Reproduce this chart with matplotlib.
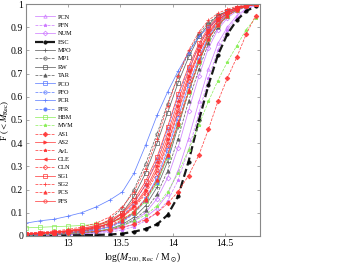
import matplotlib
matplotlib.use("Agg")
import matplotlib.pyplot as plt

plt.rcParams['font.family'] = ['Liberation Serif', 'DejaVu Serif']
plt.rcParams['mathtext.fontset'] = 'stix'

X = [12.6, 12.73, 12.87, 13.0, 13.13, 13.27, 13.4, 13.52, 13.63, 13.74, 13.85,
     13.95, 14.05, 14.15, 14.25, 14.34, 14.43, 14.52, 14.61, 14.7, 14.79]

names = ["PCN", "PFN", "NUM", "ESC", "MPO", "MP1", "RW", "TAR", "PCO", "PFO", "PCR",
         "PFR", "HBM", "MVM", "AS1", "AS2", "AvL", "CLE", "CLN", "SG1", "SG2", "PCS", "PFS"]

PCN = [0.002, 0.003, 0.004, 0.006, 0.009, 0.014, 0.022, 0.035, 0.05, 0.08, 0.12, 0.18, 0.28, 0.42, 0.58, 0.72, 0.83, 0.9, 0.95, 0.98, 0.995]
PFN = [0.001, 0.002, 0.003, 0.004, 0.006, 0.01, 0.016, 0.026, 0.04, 0.065, 0.1, 0.15, 0.24, 0.37, 0.53, 0.68, 0.8, 0.89, 0.94, 0.975, 0.993]
NUM = [0.002, 0.003, 0.005, 0.007, 0.01, 0.016, 0.026, 0.042, 0.065, 0.1, 0.16, 0.25, 0.38, 0.54, 0.69, 0.81, 0.89, 0.94, 0.97, 0.988, 0.997]
ESC = [0.001, 0.001, 0.002, 0.002, 0.003, 0.004, 0.006, 0.01, 0.018, 0.03, 0.05, 0.09, 0.17, 0.32, 0.5, 0.65, 0.78, 0.87, 0.93, 0.97, 0.99]
MPO = [0.003, 0.005, 0.007, 0.01, 0.014, 0.02, 0.03, 0.05, 0.08, 0.13, 0.21, 0.32, 0.47, 0.62, 0.75, 0.85, 0.91, 0.95, 0.975, 0.99, 0.998]
MP1 = [0.005, 0.008, 0.012, 0.017, 0.025, 0.04, 0.07, 0.12, 0.2, 0.31, 0.44, 0.57, 0.69, 0.79, 0.87, 0.92, 0.95, 0.97, 0.985, 0.993, 0.998]
RW = [0.004, 0.006, 0.01, 0.014, 0.02, 0.033, 0.055, 0.1, 0.17, 0.27, 0.4, 0.53, 0.66, 0.77, 0.86, 0.91, 0.95, 0.97, 0.985, 0.993, 0.999]
TAR = [0.002, 0.003, 0.005, 0.008, 0.011, 0.017, 0.027, 0.045, 0.07, 0.11, 0.18, 0.28, 0.42, 0.58, 0.72, 0.83, 0.9, 0.95, 0.975, 0.99, 0.998]
PCO = [0.004, 0.006, 0.009, 0.013, 0.018, 0.026, 0.04, 0.065, 0.1, 0.16, 0.25, 0.37, 0.51, 0.65, 0.77, 0.86, 0.92, 0.955, 0.977, 0.99, 0.998]
PFO = [0.004, 0.006, 0.009, 0.013, 0.019, 0.03, 0.05, 0.085, 0.14, 0.22, 0.33, 0.46, 0.6, 0.72, 0.82, 0.89, 0.94, 0.965, 0.982, 0.993, 0.999]
PCR = [0.055, 0.065, 0.072, 0.085, 0.1, 0.125, 0.155, 0.19, 0.27, 0.39, 0.52, 0.62, 0.71, 0.79, 0.86, 0.9, 0.935, 0.96, 0.978, 0.99, 0.998]
PFR = [0.003, 0.005, 0.008, 0.011, 0.016, 0.024, 0.037, 0.06, 0.095, 0.15, 0.23, 0.34, 0.48, 0.62, 0.75, 0.85, 0.91, 0.95, 0.975, 0.99, 0.998]
HBM = [0.035, 0.037, 0.04, 0.042, 0.045, 0.05, 0.058, 0.075, 0.1, 0.15, 0.23, 0.34, 0.48, 0.62, 0.75, 0.85, 0.91, 0.95, 0.975, 0.99, 0.998]
MVM = [0.003, 0.005, 0.007, 0.01, 0.014, 0.02, 0.03, 0.045, 0.065, 0.09, 0.13, 0.19, 0.27, 0.37, 0.48, 0.58, 0.67, 0.75, 0.82, 0.89, 0.94]
AS1 = [0.005, 0.007, 0.009, 0.012, 0.015, 0.02, 0.027, 0.037, 0.05, 0.07, 0.1, 0.14, 0.19, 0.26, 0.35, 0.46, 0.58, 0.68, 0.77, 0.87, 0.95]
AS2 = [0.008, 0.011, 0.015, 0.02, 0.027, 0.038, 0.055, 0.085, 0.13, 0.2, 0.3, 0.42, 0.56, 0.69, 0.8, 0.88, 0.93, 0.96, 0.98, 0.992, 0.999]
AvL = [0.012, 0.014, 0.017, 0.021, 0.026, 0.034, 0.047, 0.07, 0.105, 0.16, 0.24, 0.35, 0.48, 0.62, 0.75, 0.85, 0.91, 0.95, 0.975, 0.99, 0.998]
CLE = [0.009, 0.012, 0.016, 0.022, 0.03, 0.043, 0.063, 0.095, 0.145, 0.22, 0.32, 0.44, 0.58, 0.71, 0.82, 0.89, 0.94, 0.967, 0.983, 0.993, 0.999]
CLN = [0.007, 0.01, 0.013, 0.018, 0.025, 0.036, 0.052, 0.08, 0.12, 0.18, 0.27, 0.39, 0.53, 0.67, 0.79, 0.87, 0.92, 0.96, 0.98, 0.992, 0.999]
SG1 = [0.01, 0.013, 0.017, 0.023, 0.032, 0.046, 0.068, 0.1, 0.155, 0.235, 0.34, 0.47, 0.61, 0.73, 0.83, 0.9, 0.945, 0.97, 0.985, 0.994, 0.999]
SG2 = [0.012, 0.016, 0.021, 0.028, 0.038, 0.055, 0.082, 0.125, 0.19, 0.29, 0.42, 0.56, 0.69, 0.8, 0.88, 0.93, 0.96, 0.978, 0.99, 0.996, 1.0]
PCS = [0.006, 0.008, 0.011, 0.015, 0.02, 0.029, 0.042, 0.065, 0.1, 0.155, 0.24, 0.35, 0.49, 0.63, 0.76, 0.85, 0.91, 0.95, 0.975, 0.99, 0.998]
PFS = [0.008, 0.011, 0.014, 0.019, 0.026, 0.037, 0.054, 0.082, 0.125, 0.19, 0.285, 0.4, 0.54, 0.68, 0.79, 0.87, 0.93, 0.96, 0.98, 0.992, 0.999]

series = [PCN, PFN, NUM, ESC, MPO, MP1, RW, TAR, PCO, PFO, PCR, PFR, HBM, MVM,
          AS1, AS2, AvL, CLE, CLN, SG1, SG2, PCS, PFS]

VIO, BLK, GRY, BLU, GRN, RED = '#cc77ff', '#000000', '#555555', '#5577ff', '#88ee55', '#ff3333'
styles = [
    (VIO, '-', '^', False), (VIO, '--', '*', True), (VIO, '-', 'D', False),
    (BLK, '--', 'o', True), (GRY, '-', '+', True), (GRY, '--', 'o', False),
    (GRY, '-', 's', False), (GRY, '--', '^', True), (BLU, '-', 's', False),
    (BLU, '--', 'o', False), (BLU, '-', '+', True), (BLU, '--', 'o', True),
    (GRN, '-', 's', False), (GRN, '--', '*', True), (RED, '--', 'D', True),
    (RED, '-', '>', True), (RED, '--', '*', True), (RED, '-', '<', True),
    (RED, '--', 'D', False), (RED, '-', 's', False), (RED, '--', '+', True),
    (RED, '--', '^', True), (RED, '-', 'o', False),
]

fig = plt.figure(figsize=(3.41, 2.69), dpi=100)
ax = fig.add_axes([0.076, 0.123, 0.686, 0.862])

for name, vals, (c, ls, mk, filled) in zip(names, series, styles):
    lw = 1.6 if name == 'ESC' else 0.55
    ax.plot(X, vals, color=c, ls=ls, lw=lw, marker=mk, ms=2.4,
            mfc=c if filled else 'none', mec=c, mew=0.55, label=name, alpha=0.9)

ax.set_xlim(12.6, 14.83)
ax.set_ylim(0, 1)
ax.set_xticks([13, 13.5, 14, 14.5])
ax.set_xticklabels(['13', '13.5', '14', '14.5'])
ax.set_yticks([0, 0.1, 0.2, 0.3, 0.4, 0.5, 0.6, 0.7, 0.8, 0.9, 1])
ax.set_yticklabels(['0', '0.1', '0.2', '0.3', '0.4', '0.5', '0.6', '0.7', '0.8', '0.9', '1'])
ax.tick_params(direction='in', top=True, right=True, labelsize=7, length=2.5,
               width=0.6, color='#999999', pad=2)
for s in ax.spines.values():
    s.set_color('#888888')
    s.set_linewidth(0.8)

ax.set_xlabel(r'log($M_{200,\,\rm Rec}$ / M$_\odot$)', fontsize=7, labelpad=2)
ax.set_ylabel(r'F ($<M_{\rm Rec}$)', fontsize=6.5)
ax.yaxis.set_label_coords(-0.064, 0.5)

ax.legend(loc='upper left', frameon=False, fontsize=4.5, handlelength=3.2,
          labelspacing=0.48, borderaxespad=0.3, handletextpad=0.4,
          bbox_to_anchor=(0.02, 0.975))

fig.savefig('out.png', dpi=100)
